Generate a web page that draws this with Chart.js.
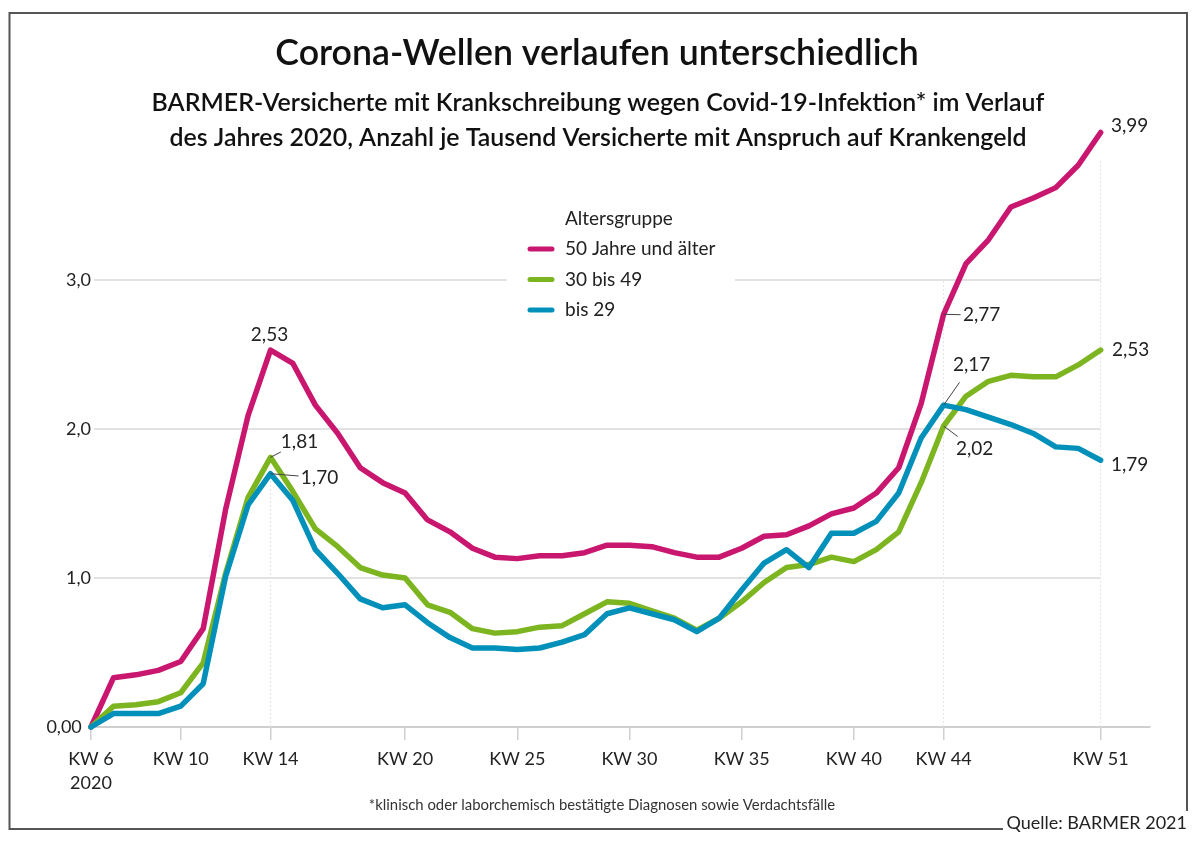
<!DOCTYPE html>
<html lang="de">
<head>
<meta charset="utf-8">
<title>Corona-Wellen verlaufen unterschiedlich</title>
<script src="https://cdn.jsdelivr.net/npm/chart.js@4"></script>
<style>
  html, body { margin: 0; background: #fff; }
  canvas { display: block; }
</style>
</head>
<body>
<canvas id="chart" width="1200" height="842"></canvas>
<script>
const FONT = 'Lato, sans-serif';
const TEXT = '#222';

// Kalenderwochen 6 bis 51
const weeks = [6, 7, 8, 9, 10, 11, 12, 13, 14, 15, 16, 17, 18, 19, 20, 21, 22, 23, 24, 25, 26, 27, 28,
  29, 30, 31, 32, 33, 34, 35, 36, 37, 38, 39, 40, 41, 42, 43, 44, 45, 46, 47, 48, 49, 50, 51];

const pinkValues = [0, 0.33, 0.35, 0.38, 0.44, 0.66, 1.46, 2.09, 2.53, 2.44, 2.16, 1.97, 1.74, 1.64, 1.57, 1.39,
  1.31, 1.20, 1.14, 1.13, 1.15, 1.15, 1.17, 1.22, 1.22, 1.21, 1.17, 1.14, 1.14, 1.20, 1.28, 1.29, 1.35, 1.43,
  1.47, 1.57, 1.74, 2.17, 2.77, 3.11, 3.27, 3.49, 3.55, 3.62, 3.77, 3.99];
const greenValues = [0, 0.14, 0.15, 0.17, 0.23, 0.43, 1.03, 1.54, 1.81, 1.58, 1.33, 1.21, 1.07, 1.02, 1.00, 0.82,
  0.77, 0.66, 0.63, 0.64, 0.67, 0.68, 0.76, 0.84, 0.83, 0.78, 0.73, 0.65, 0.73, 0.84, 0.97, 1.07, 1.09, 1.14,
  1.11, 1.19, 1.31, 1.64, 2.02, 2.22, 2.32, 2.36, 2.35, 2.35, 2.43, 2.53];
const blueValues = [0, 0.09, 0.09, 0.09, 0.14, 0.29, 1.01, 1.49, 1.70, 1.52, 1.19, 1.03, 0.86, 0.80, 0.82, 0.70,
  0.60, 0.53, 0.53, 0.52, 0.53, 0.57, 0.62, 0.76, 0.80, 0.76, 0.72, 0.64, 0.73, 0.92, 1.10, 1.19, 1.07, 1.30,
  1.30, 1.38, 1.57, 1.94, 2.16, 2.13, 2.08, 2.03, 1.97, 1.88, 1.87, 1.79];

const seriesNames = ['50 Jahre und älter', '30 bis 49', 'bis 29'];
const seriesColors = ['#c9166f', '#7cb51f', '#0090b9'];
const labeledWeeks = [6, 10, 14, 20, 25, 30, 35, 40, 44, 51];
const yTicks = [0, 1, 2, 3];
const guideWeeks = { 14: 1.7, 44: 3.0, 51: 3.8 }; // how far the dotted guides reach

const titleText = 'Corona-Wellen verlaufen unterschiedlich';
const subtitleLines = [
  'BARMER-Versicherte mit Krankschreibung wegen Covid-19-Infektion* im Verlauf',
  'des Jahres 2020, Anzahl je Tausend Versicherte mit Anspruch auf Krankengeld'
];
const legendTitle = 'Altersgruppe';
const footnote = '*klinisch oder laborchemisch bestätigte Diagnosen sowie Verdachtsfälle';
const sourceText = 'Quelle: BARMER 2021';

// [series, week, text, label dx, label dy, leader]
const callouts = [
  [0, 14, '2,53', -1, -15, false],
  [1, 14, '1,81', 29, -15, true],
  [2, 14, '1,70', 49, 4, true],
  [0, 44, '2,77', 38, 1, true],
  [2, 44, '2,17', 28, -40, true],
  [1, 44, '2,02', 31, 23, true],
  [0, 51, '3,99', 29, -7, false],
  [1, 51, '2,53', 30, 0, false],
  [2, 51, '1,79', 29, 5, false]
];

const toPoints = values => values.map((v, i) => ({ x: weeks[i], y: v }));

const pagePlugin = {
  id: 'page',
  beforeDraw(chart) {
    const { ctx } = chart;
    ctx.save();
    ctx.fillStyle = '#fff';
    ctx.fillRect(0, 0, chart.width, chart.height);
    // frame, open at the bottom right for the source line
    ctx.strokeStyle = '#555';
    ctx.lineWidth = 2;
    ctx.beginPath();
    ctx.moveTo(1003, 829);
    ctx.lineTo(9.5, 829);
    ctx.lineTo(9.5, 13);
    ctx.lineTo(1187, 13);
    ctx.lineTo(1187, 811);
    ctx.stroke();
    ctx.restore();
  },
  beforeDatasetsDraw(chart) {
    const { ctx, scales: { x, y } } = chart;
    ctx.save();
    ctx.strokeStyle = '#d8d8d8';
    ctx.lineWidth = 1.5;
    yTicks.slice(1).forEach(t => {
      ctx.beginPath();
      ctx.moveTo(x.getPixelForValue(weeks[0]) + 3, y.getPixelForValue(t));
      ctx.lineTo(x.getPixelForValue(51), y.getPixelForValue(t));
      ctx.stroke();
    });
    ctx.strokeStyle = '#e4e4e4';
    ctx.lineWidth = 1;
    ctx.setLineDash([2, 2]);
    Object.entries(guideWeeks).forEach(([week, top]) => {
      ctx.beginPath();
      ctx.moveTo(x.getPixelForValue(+week), y.getPixelForValue(0));
      ctx.lineTo(x.getPixelForValue(+week), y.getPixelForValue(top));
      ctx.stroke();
    });
    ctx.restore();
  },
  afterDatasetsDraw(chart) {
    const { ctx, scales: { x, y } } = chart;
    ctx.save();
    ctx.textBaseline = 'middle';

    // title block
    ctx.textAlign = 'center';
    ctx.fillStyle = '#111';
    ctx.font = '600 35.7px ' + FONT;
    ctx.fillText(titleText, 597, 53);
    ctx.font = '600 24.9px ' + FONT;
    subtitleLines.forEach((line, i) => ctx.fillText(line, 598, 103 + i * 35));

    // legend, white box cuts the 3,0 grid line
    ctx.fillStyle = '#fff';
    ctx.fillRect(507, 205, 228, 120);
    ctx.textAlign = 'left';
    ctx.fillStyle = TEXT;
    ctx.font = '19px ' + FONT;
    ctx.fillText(legendTitle, 565, 219);
    seriesNames.forEach((name, i) => {
      const rowY = 249 + i * 30.5;
      ctx.fillStyle = TEXT;
      ctx.fillText(name, 565, rowY);
      ctx.strokeStyle = seriesColors[i];
      ctx.lineWidth = 5;
      ctx.lineCap = 'round';
      ctx.beginPath();
      ctx.moveTo(530, rowY);
      ctx.lineTo(552, rowY);
      ctx.stroke();
    });
    ctx.lineCap = 'butt';

    // value labels
    ctx.font = '19px ' + FONT;
    ctx.textAlign = 'center';
    callouts.forEach(([series, week, text, dx, dy, leader]) => {
      const px = x.getPixelForValue(week);
      const py = y.getPixelForValue(chart.data.datasets[series].data[weeks.indexOf(week)].y);
      if (leader) {
        const len = Math.hypot(dx, dy);
        const reach = len - 21;
        ctx.strokeStyle = '#444';
        ctx.lineWidth = 1;
        ctx.beginPath();
        ctx.moveTo(px, py);
        ctx.lineTo(px + dx / len * reach, py + dy / len * reach);
        ctx.stroke();
      }
      ctx.fillStyle = TEXT;
      ctx.fillText(text, px + dx, py + dy);
    });

    // footnote and source
    ctx.fillStyle = '#333';
    ctx.font = '14.9px ' + FONT;
    ctx.fillText(footnote, 602, 805);
    ctx.fillStyle = TEXT;
    ctx.font = '18px ' + FONT;
    ctx.textAlign = 'right';
    ctx.fillText(sourceText, 1187, 823);
    ctx.restore();
  }
};

new Chart(document.getElementById('chart'), {
  type: 'line',
  data: {
    datasets: seriesNames.map((name, i) => ({
      label: name,
      data: toPoints([pinkValues, greenValues, blueValues][i]),
      borderColor: seriesColors[i],
      borderWidth: 5.5,
      borderCapStyle: 'round',
      borderJoinStyle: 'round',
      pointRadius: 0,
      tension: 0,
      fill: false,
      clip: false,
      order: i === 2 ? 0 : 3 - i // blue on top, pink at the bottom
    }))
  },
  options: {
    responsive: false,
    animation: false,
    layout: { padding: { top: 101.2, right: 50, left: 0, bottom: 0 } },
    plugins: { legend: { display: false }, tooltip: { enabled: false } },
    scales: {
      x: {
        type: 'linear',
        min: 6,
        max: 53.2,
        afterFit: scale => { scale.height = 115; },
        afterBuildTicks: scale => { scale.ticks = labeledWeeks.map(w => ({ value: w })); },
        border: { color: '#cfcfcf', width: 2 },
        grid: { drawOnChartArea: false, color: '#cfcfcf', tickLength: 13, lineWidth: 1.5 },
        ticks: {
          autoSkip: false,
          maxRotation: 0,
          padding: 7,
          color: TEXT,
          font: { family: FONT, size: 18, lineHeight: 1.35 },
          callback: v => (v === weeks[0] ? ['KW ' + v, '2020'] : 'KW ' + v)
        }
      },
      y: {
        min: 0,
        max: 4.2,
        afterFit: scale => { scale.width = 91; },
        afterBuildTicks: scale => { scale.ticks = yTicks.map(v => ({ value: v })); },
        border: { display: false },
        grid: { display: false, drawTicks: false },
        ticks: {
          padding: 0,
          color: TEXT,
          font: { family: FONT, size: 18 },
          callback: v => (v === 0 ? '0,00  ' : v.toFixed(1).replace('.', ','))
        }
      }
    }
  },
  plugins: [pagePlugin]
});
</script>
</body>
</html>
